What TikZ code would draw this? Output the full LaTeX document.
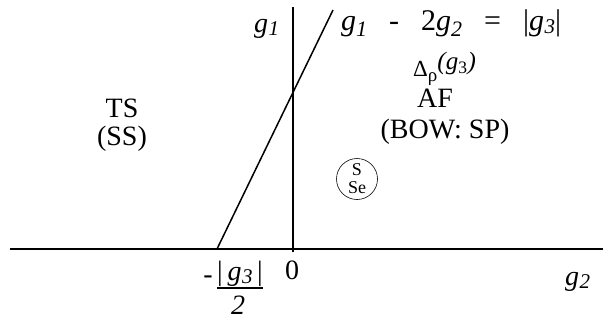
\documentclass[tikz,border=0pt]{standalone}
\usepackage{fontspec}
\setmainfont{Liberation Serif}
\newcommand{\gv}[1]{\textit{g}\kern0.5pt\raisebox{-0.25ex}{\fontsize{21}{21}\selectfont\textit{#1}}}
\newcommand{\gw}[1]{\textit{g}\raisebox{-0.45ex}{\fontsize{22}{22}\selectfont\textit{#1}}}

\begin{document}
\begin{tikzpicture}[x=1pt, y=-1pt, font=\fontsize{28}{32}\selectfont]
		\useasboundingbox (0,0) rectangle (603,327);
		\tikzset{lbl/.style={inner sep=0pt, anchor=base}}

		\coordinate (xl) at (10,249);
		\coordinate (xr) at (603,249);
		\coordinate (yb) at (292.5,252);
		\coordinate (yt) at (292.5,7);
		\coordinate (sb) at (217,249);
		\coordinate (st) at (333,10);
		\draw[line width=2pt] (xl) -- (xr);
		\draw[line width=2pt] (yb) -- (yt);
		\draw[line width=1.5pt] (sb) -- (st);

		\node[lbl, anchor=base west] (gone) at (254,32) {\gv{1}};
		\node[lbl, anchor=base west] (gtwo) at (565,285) {\gv{2}};
		\node[lbl] (zero) at (292,279) {0};

		\node[lbl, anchor=base west, font=\fontsize{30}{32}\selectfont] (eq) at (341,30)
			{\gw{1}\hspace{22pt}-\hspace{22pt}2\gw{2}\hspace{22pt}=\hspace{22pt}|\gv{3}|};
		\node[lbl, anchor=base west] (delta) at (413,76)
			{{\fontsize{23}{23}\selectfont Δ}\raisebox{-0.45ex}{\fontsize{19}{19}\selectfont ρ}\raisebox{0.5ex}{\fontsize{25}{25}\selectfont\textit{(g}\textsubscript{3}\textit{)}}};
		\node[lbl] (af) at (435,107) {AF};
		\node[lbl] (bow) at (445,138) {(BOW: SP)};

		\node[lbl] (ts) at (122,117) {TS};
		\node[lbl] (ss) at (122,145) {(SS)};

		\node[circle, draw, line width=0.6pt, minimum size=41pt, inner sep=0pt, align=center,
			font=\fontsize{18}{18}\selectfont] (sse) at (357,179) {S\\Se};

		\node[lbl] (minus) at (208,283) {-};
		\node[lbl] (fnum) at (240,280) {|\,\gv{3}\,|};
		\node[lbl] (fden) at (238,314) {\textit{2}};
		\coordinate (fbl) at (217,288);
		\coordinate (fbr) at (263,288);
		\draw[line width=1.2pt] (fbl) -- (fbr);
	\end{tikzpicture}
\end{document}
